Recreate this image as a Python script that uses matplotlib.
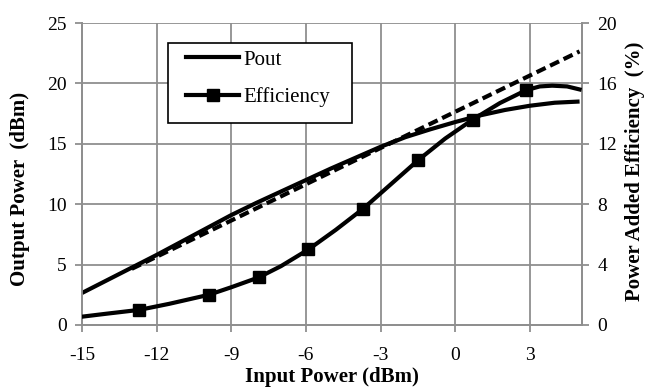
import matplotlib
matplotlib.use("Agg")
import matplotlib.pyplot as plt
from matplotlib.patches import Rectangle

# Input power sweep (dBm) and output power (dBm)
pin = [-15, -14, -13, -12, -11, -10, -9, -8, -7, -6, -5, -4, -3, -2, -1, 0, 1, 2, 3, 4, 5]
pout = [2.65, 3.7, 4.75, 5.8, 6.9, 8.0, 9.1, 10.1, 11.05, 12.0, 12.95, 13.85, 14.75,
        15.55, 16.2, 16.8, 17.35, 17.8, 18.15, 18.4, 18.5]

# Ideal linear gain line (dashed)
lin_x = [-13, 5]
lin_y = [4.65, 22.65]

# Power added efficiency (%) curve
eff_x = [-15, -14, -12.7, -11.5, -9.9, -9, -7.9, -7, -5.9, -4.8, -3.7, -2.6, -1.5,
         -0.4, 0.7, 1.8, 2.85, 3.4, 3.9, 4.5, 5]
eff_y = [0.55, 0.75, 1.0, 1.4, 2.0, 2.5, 3.15, 3.9, 5.0, 6.3, 7.7, 9.3, 10.9,
         12.35, 13.6, 14.7, 15.55, 15.8, 15.85, 15.8, 15.6]
# measured points shown with markers
eff_mx = [-12.7, -9.9, -7.9, -5.9, -3.7, -1.5, 0.7, 2.85]
eff_my = [1.0, 2.0, 3.15, 5.0, 7.7, 10.9, 13.6, 15.55]

x_ticks = [-15, -12, -9, -6, -3, 0, 3]
left_ticks = [0, 5, 10, 15, 20, 25]
right_ticks = [0, 4, 8, 12, 16, 20]

plt.rcParams["font.family"] = ["Liberation Serif", "DejaVu Serif"]
plt.rcParams["axes.unicode_minus"] = False
GRID = "#8f8f8f"
TICK_FS = 14
LEG_FS = 15
W, H = 654, 390

fig = plt.figure(figsize=(6.54, 3.90), dpi=100)
ax = fig.add_axes([0.1254, 0.1667, 0.7646, 0.7743])
ax2 = ax.twinx()

ax.plot(pin, pout, color="black", linewidth=3, solid_capstyle="butt", zorder=3)
ax.plot(lin_x, lin_y, color="black", linewidth=3, linestyle=(0, (2.4, 1.2)), zorder=3)
ax2.plot(eff_x, eff_y, color="black", linewidth=3, zorder=3)
ax2.plot(eff_mx, eff_my, linestyle="none", marker="s", markersize=8.5, color="black", zorder=4)

ax.set_xlim(-15, 5.1)
ax.set_ylim(0, 25)
ax2.set_ylim(0, 20)
ax.set_xticks(x_ticks)
ax.set_yticks(left_ticks)
ax2.set_yticks(right_ticks)

ax.grid(True, color=GRID, linewidth=1.3)
ax.set_axisbelow(True)
for a in (ax, ax2):
    for s in a.spines.values():
        s.set_color(GRID)
        s.set_linewidth(1.3)
    a.tick_params(direction="out", length=5, width=1.3, color=GRID, labelsize=TICK_FS, pad=6)
ax.tick_params(axis="x", pad=11)
ax.spines["top"].set_visible(False)
ax2.spines["top"].set_visible(False)

ax.set_xlabel("Input Power (dBm)", fontsize=15, fontweight="bold", labelpad=2)
ax.set_ylabel("Output Power  (dBm)", fontsize=15, fontweight="bold")
ax2.set_ylabel("Power Added Efficiency  (%)", fontsize=15, fontweight="bold")
ax.yaxis.set_label_coords(-0.105, 0.45)
ax2.yaxis.set_label_coords(1.085, 0.51)

# legend: box drawn separately so it can be wider than the entries
box = Rectangle((168 / W, 1 - 123 / H), 184 / W, 80 / H, transform=fig.transFigure,
                facecolor="white", edgecolor="black", linewidth=1.2, zorder=9)
fig.patches.append(box)
h1, = ax.plot([], [], color="black", linewidth=3)
h2, = ax.plot([], [], color="black", linewidth=3, marker="s", markersize=8.5)
leg = fig.legend([h1, h2], ["Pout", "Efficiency"], loc="upper left",
                 bbox_to_anchor=(186 / W, 1 - 50 / H),
                 fontsize=LEG_FS, frameon=False,
                 handlelength=2.55, handletextpad=0.22, labelspacing=0.85, borderpad=0,
                 borderaxespad=0, numpoints=1)
leg.set_zorder(10)

fig.savefig("out.png", dpi=100)
